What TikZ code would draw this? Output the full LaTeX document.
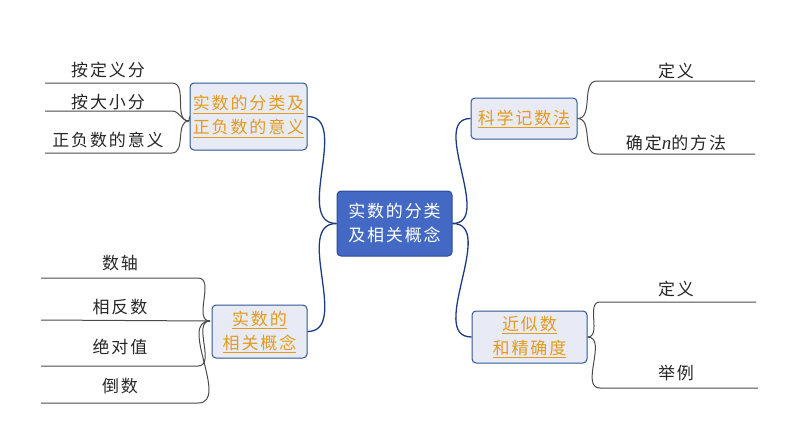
\documentclass[tikz,border=0pt]{standalone}
\usepackage{fontspec}
\setmainfont{Noto Sans CJK SC}[LetterSpace=11]
\newfontfamily\latinserif{Liberation Serif}
\definecolor{rootblue}{HTML}{4469C4}
\definecolor{rootedge}{HTML}{2C4A92}
\definecolor{topicfill}{HTML}{E8EBF5}
\definecolor{topicedge}{HTML}{2F5597}
\definecolor{linkblue}{HTML}{1F3B80}
\definecolor{goldtext}{HTML}{E39B1C}
\definecolor{leafline}{HTML}{4A4A4A}
\begin{document}
\begin{tikzpicture}[x=1pt, y=-1pt,
		root/.style={draw=rootedge, line width=1pt, fill=rootblue, rounded corners=4pt, inner sep=1pt, text=white, align=center, font=\fontsize{17}{24}\selectfont},
		topic/.style={draw=topicedge, line width=1pt, fill=topicfill, rounded corners=4pt, inner sep=1pt, text=goldtext, align=center, font=\fontsize{17}{24}\selectfont},
		leaf/.style={text=black!85, font=\fontsize{17}{20}\selectfont},
		link/.style={draw=linkblue, line width=1.3pt},
		twig/.style={draw=leafline, line width=1pt}]
	\useasboundingbox (0, 0) rectangle (794, 447);

	%%the middle
	\node[root, minimum width=115pt, minimum height=65pt] (root) at (394.5, 223.5) {实数的分类\\及相关概念};

	%%the four topics
	\node[topic, minimum width=117pt, minimum height=67pt] (fenlei) at (248.5, 116.5) {\underline{实数的分类及}\\\underline{正负数的意义}};
	\node[topic, minimum width=95pt, minimum height=53pt] (gainian) at (259.5, 331.5) {\underline{实数的}\\\underline{相关概念}};
	\node[topic, minimum width=106pt, minimum height=41pt] (kexue) at (524, 118.5) {\underline{科学记数法}};
	\node[topic, minimum width=115pt, minimum height=52pt] (jinsi) at (529.5, 337) {\underline{近似数}\\\underline{和精确度}};

	\draw[link] (fenlei.east) to[out=0, in=180] (root.west);
	\draw[link] (gainian.east) to[out=0, in=180] (root.west);
	\draw[link] (root.east) to[out=0, in=180] (kexue.west);
	\draw[link] (root.east) to[out=0, in=180] (jinsi.west);

	%%fenlei's leaves
	\coordinate (fj) at (189, 121);
	\coordinate (f1a) at (45, 83);  \coordinate (f1b) at (172, 83);
	\coordinate (f2a) at (45, 111); \coordinate (f2b) at (172, 111);
	\coordinate (f3a) at (45, 153); \coordinate (f3b) at (172, 153);
	\draw[twig] (f1a) -- (f1b) to[out=0, in=180] (fj);
	\draw[twig] (f2a) -- (f2b) to[out=0, in=180] (fj);
	\draw[twig] (f3a) -- (f3b) to[out=0, in=180] (fj);
	\draw[twig] (fj) -- (fenlei.west);
		\node[leaf] (dingyifen) at (108, 70) {按定义分};
		\node[leaf] (daxiaofen) at (108, 102) {按大小分};
		\node[leaf] (zhengfu) at (108, 140) {正负数的意义};

	%%gainian's leaves
	\coordinate (gj) at (210, 321);
	\coordinate (g1a) at (41, 278); \coordinate (g1b) at (198, 278);
	\coordinate (g2a) at (41, 320); \coordinate (g2b) at (198, 320);
	\coordinate (g3a) at (41, 366); \coordinate (g3b) at (198, 366);
	\coordinate (g4a) at (41, 403); \coordinate (g4b) at (198, 403);
	\draw[twig] (g1a) -- (g1b) to[out=0, in=180] (gj);
	\draw[twig] (g2a) -- (gj);
	\draw[twig] (g3a) -- (g3b) to[out=0, in=180] (gj);
	\draw[twig] (g4a) -- (g4b) to[out=0, in=180] (gj);
		\node[leaf] (shuzhou) at (120, 263) {数轴};
		\node[leaf] (xiangfan) at (120, 307) {相反数};
		\node[leaf] (jueduizhi) at (120, 347) {绝对值};
		\node[leaf] (daoshu) at (120, 386) {倒数};

	%%kexue's leaves
	\coordinate (k1a) at (597, 81);  \coordinate (k1b) at (755, 81);
	\coordinate (k2a) at (597, 154); \coordinate (k2b) at (755, 154);
	\draw[twig] (kexue.east) to[out=0, in=180] (k1a) -- (k1b);
	\draw[twig] (kexue.east) to[out=0, in=180] (k2a) -- (k2b);
		\node[leaf] (kdingyi) at (676, 71) {定义};
		\node[leaf] (quedingn) at (676, 143) {确定{\latinserif\itshape\fontsize{19}{20}\selectfont n}的方法};

	%%jinsi's leaves
	\coordinate (j1a) at (600, 302); \coordinate (j1b) at (756, 302);
	\coordinate (j2a) at (600, 388); \coordinate (j2b) at (758, 388);
	\draw[twig] (jinsi.east) to[out=0, in=180] (j1a) -- (j1b);
	\draw[twig] (jinsi.east) to[out=0, in=180] (j2a) -- (j2b);
		\node[leaf] (jdingyi) at (676, 289) {定义};
		\node[leaf] (juli) at (676, 373) {举例};
\end{tikzpicture}
\end{document}
